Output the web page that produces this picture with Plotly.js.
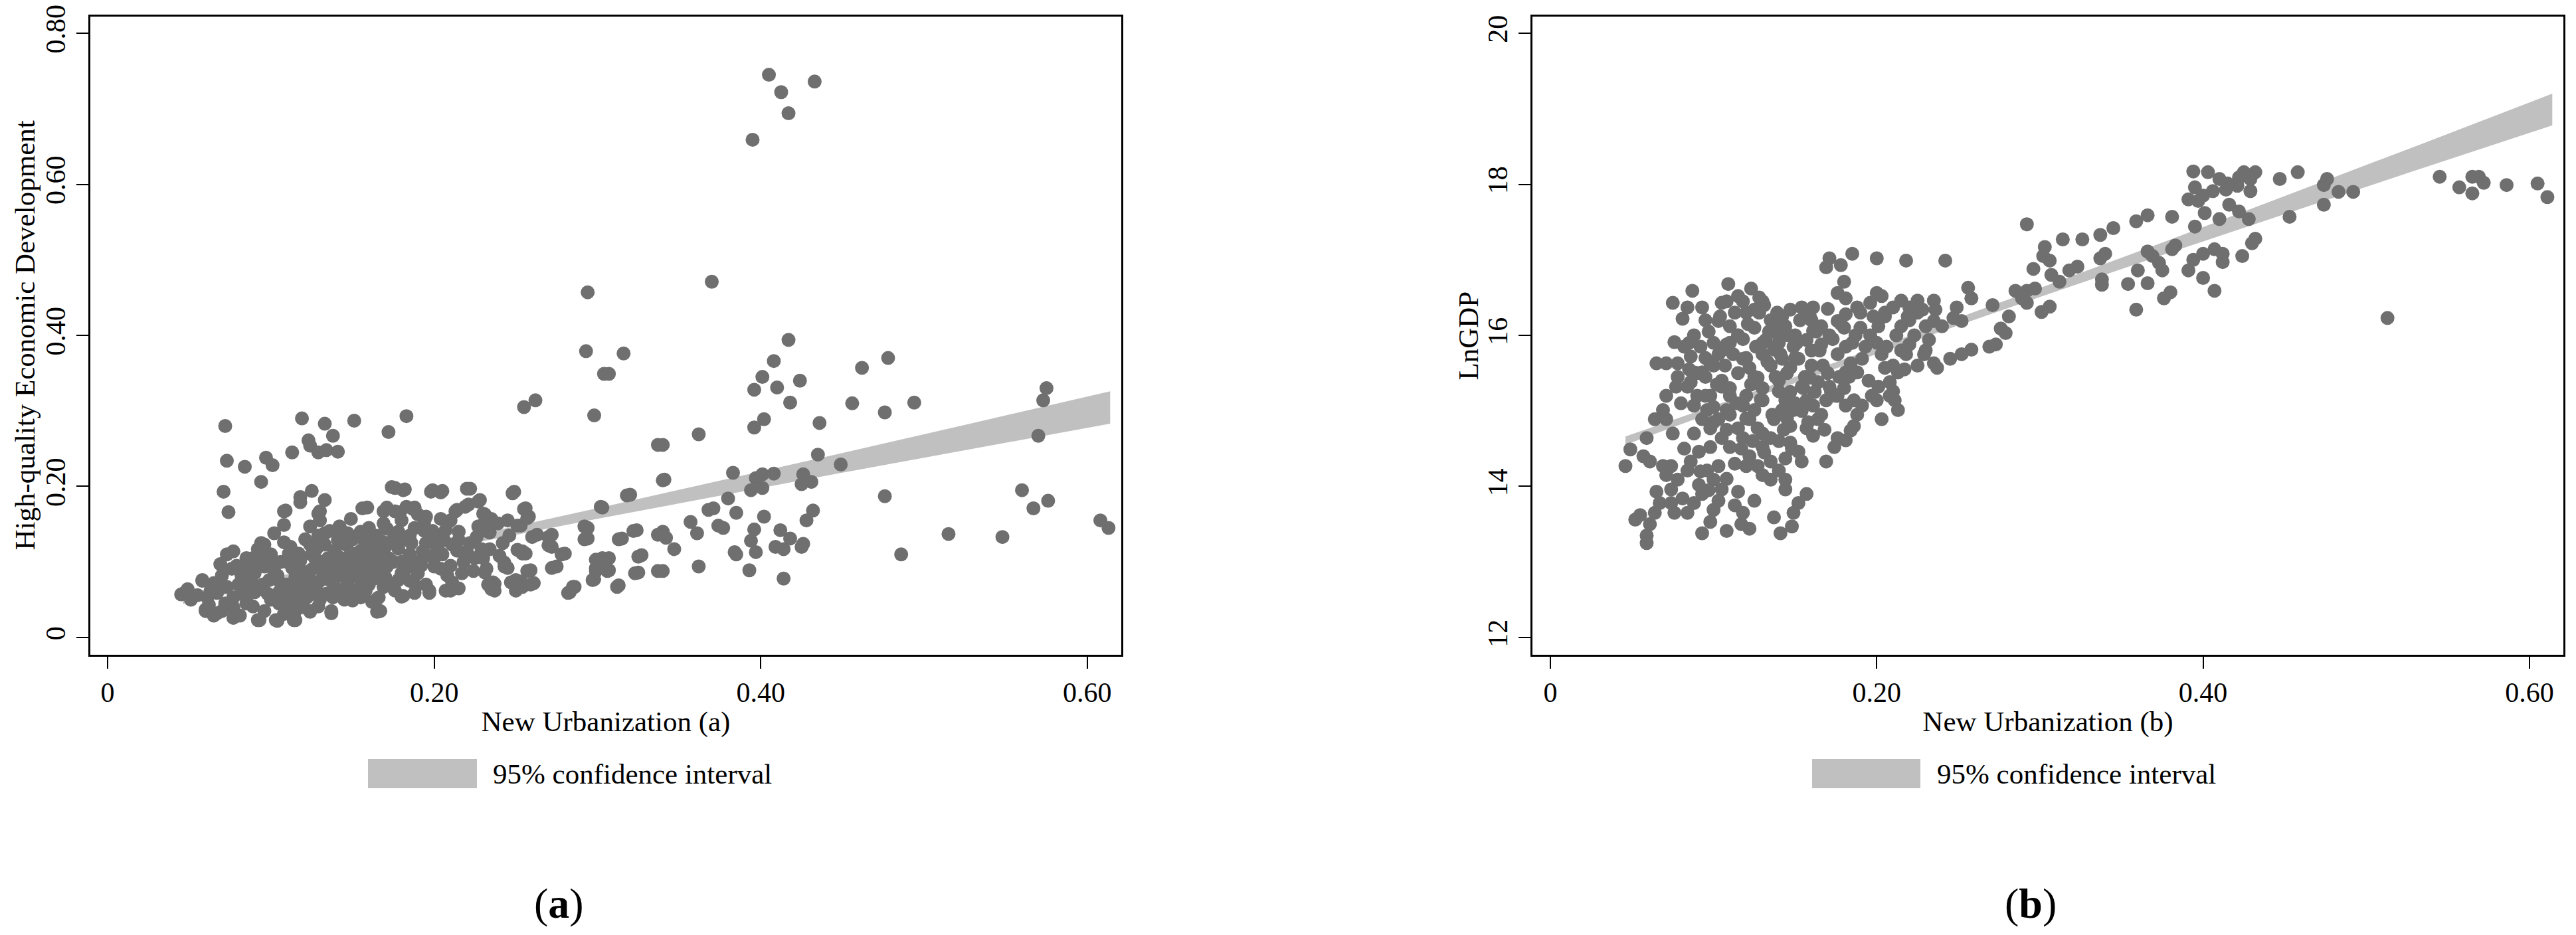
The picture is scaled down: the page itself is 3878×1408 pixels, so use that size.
<!DOCTYPE html>
<html>
<head>
<meta charset="utf-8">
<script src="https://cdn.plot.ly/plotly-3.0.1.min.js"></script>
<style>html,body{margin:0;padding:0;background:#fff;}#chart{width:3878px;height:1408px;}</style>
</head>
<body>
<div id="chart"></div>
<script>
// ---------- DATA ----------
const xTickVals = [0, 0.2, 0.4, 0.6];
const xTickText = ['0', '0.20', '0.40', '0.60'];
const yTickValsA = [0, 0.2, 0.4, 0.6, 0.8];
const yTickTextA = ['0', '0.20', '0.40', '0.60', '0.80'];
const yTickValsB = [12, 14, 16, 18, 20];
const yTickTextB = ['12', '14', '16', '18', '20'];

const xTitleA = 'New Urbanization (a)';
const yTitleA = 'High-quality Economic Development';
const xTitleB = 'New Urbanization (b)';
const yTitleB = 'LnGDP';
const legendLabel = '95% confidence interval';

// confidence band
const bandX = [0.046, 0.10, 0.15, 0.22, 0.30, 0.38, 0.45, 0.53, 0.614];
const bandLowA = [0.0446, 0.0702, 0.0931, 0.1233, 0.1571, 0.1899, 0.2182, 0.2499, 0.2830];
const bandHighA = [0.0566, 0.0792, 0.1011, 0.1333, 0.1711, 0.2099, 0.2442, 0.2839, 0.3260];
const bandLowB = [14.552, 14.982, 15.370, 15.905, 16.507, 17.099, 17.605, 18.182, 18.780];
const bandHighB = [14.662, 15.066, 15.450, 15.995, 16.627, 17.269, 17.845, 18.502, 19.200];

// panel (a): [New Urbanization, High-quality Economic Development]
const pointsA = [
[0.405,0.745],[0.4125,0.722],[0.433,0.736],[0.417,0.694],[0.395,0.659],[0.294,0.457],[0.370,0.471],[0.293,0.379],[0.316,0.376],[0.304,0.349],[0.307,0.349],[0.298,0.294],[0.255,0.305],[0.262,0.314],[0.417,0.394],[0.408,0.366],[0.401,0.345],[0.396,0.328],[0.410,0.331],[0.424,0.340],[0.418,0.311],[0.462,0.357],[0.478,0.370],[0.456,0.310],[0.476,0.298],[0.494,0.311],[0.575,0.330],[0.573,0.314],[0.570,0.267],[0.402,0.289],[0.396,0.278],[0.436,0.284],[0.435,0.242],[0.449,0.229],[0.362,0.269],[0.340,0.255],[0.341,0.209],[0.383,0.218],[0.397,0.211],[0.408,0.217],[0.401,0.216],[0.426,0.216],[0.425,0.203],[0.431,0.206],[0.394,0.195],[0.401,0.198],[0.476,0.187],[0.560,0.195],[0.567,0.171],[0.576,0.181],[0.608,0.155],[0.613,0.145],[0.515,0.137],[0.548,0.133],[0.486,0.110],[0.320,0.189],[0.303,0.172],[0.380,0.184],[0.385,0.165],[0.368,0.169],[0.371,0.171],[0.402,0.160],[0.432,0.168],[0.428,0.155],[0.357,0.153],[0.361,0.138],[0.374,0.148],[0.377,0.145],[0.396,0.143],[0.412,0.142],[0.418,0.131],[0.426,0.124],[0.425,0.120],[0.409,0.120],[0.414,0.117],[0.394,0.128],[0.397,0.113],[0.384,0.113],[0.385,0.110],[0.393,0.089],[0.414,0.078],[0.294,0.145],[0.294,0.131],[0.324,0.142],[0.315,0.131],[0.340,0.140],[0.342,0.132],[0.347,0.117],[0.327,0.109],[0.303,0.105],[0.307,0.105],[0.299,0.092],[0.307,0.089],[0.325,0.086],[0.340,0.088],[0.362,0.094],[0.298,0.077],[0.313,0.069],[0.283,0.060],[0.286,0.067],
[0.263,0.136],[0.272,0.136],[0.272,0.120],[0.280,0.111],[0.275,0.094],[0.258,0.160],[0.256,0.171],[0.249,0.193],[0.253,0.148],[0.254,0.114],[0.256,0.111],[0.259,0.089],[0.261,0.072],[0.253,0.074],[0.250,0.062],[0.245,0.092],[0.243,0.099],[0.237,0.062],[0.237,0.071],[0.231,0.086],[0.234,0.117],[0.234,0.139],[0.239,0.151],[0.229,0.148],[0.231,0.163],[0.222,0.197],[0.228,0.182],[0.221,0.176],[0.214,0.169],[0.205,0.194],[0.199,0.195],[0.182,0.196],[0.176,0.198],
[0.183,0.293],[0.172,0.272],[0.151,0.287],[0.138,0.267],[0.133,0.283],[0.119,0.290],[0.123,0.261],[0.124,0.254],[0.113,0.245],[0.129,0.245],[0.134,0.248],[0.141,0.246],[0.097,0.238],[0.101,0.228],[0.084,0.226],[0.072,0.280],[0.073,0.234],[0.071,0.193],[0.074,0.166],[0.094,0.206],[0.125,0.194],[0.118,0.186],[0.133,0.182],[0.109,0.168],[0.118,0.179],[0.159,0.172],[0.171,0.172],[0.188,0.172],[0.179,0.166],[0.190,0.163],[0.149,0.157],[0.169,0.151],
[0.174,0.199],[0.181,0.195],[0.198,0.193],[0.204,0.192],[0.220,0.197],[0.248,0.191],[0.318,0.188],[0.302,0.173],
[0.108,0.167],[0.130,0.167],[0.156,0.171],[0.169,0.167],[0.176,0.167],[0.183,0.173],[0.187,0.170],[0.194,0.154],[0.204,0.157],[0.208,0.151],[0.213,0.167],[0.219,0.173],[0.227,0.180],[0.230,0.164],[0.235,0.157],[0.245,0.155],[0.251,0.148],[0.255,0.170],[0.257,0.158],[0.260,0.133],[0.270,0.133],[0.270,0.122],[0.278,0.110],[0.292,0.147],[0.292,0.130],[0.313,0.130],[0.322,0.141],[0.337,0.136],[0.337,0.255],[0.340,0.208],[0.325,0.107],[0.299,0.103],[0.304,0.098],[0.299,0.088],[0.306,0.088],[0.297,0.076],[0.272,0.092],[0.285,0.067],[0.282,0.059],[0.312,0.067],[0.323,0.085],[0.337,0.088],[0.257,0.088],[0.254,0.111],[0.251,0.116],[0.243,0.094],[0.247,0.073],[0.250,0.076],[0.254,0.067],[0.259,0.070],[0.236,0.073],[0.235,0.064],[0.233,0.070],[0.232,0.091],[0.230,0.105],[0.229,0.117],[0.227,0.147],[0.232,0.141],[0.226,0.133],[0.220,0.114],[0.218,0.100],[0.224,0.088],[0.217,0.085],[0.211,0.073],[0.207,0.062],[0.208,0.082],[0.204,0.091],[0.200,0.094],[0.197,0.062],[0.195,0.070],[0.188,0.059],[0.180,0.054],[0.176,0.062],[0.178,0.076],[0.180,0.085],[0.185,0.094],[0.190,0.100],[0.193,0.114],[0.199,0.126],[0.206,0.129],[0.211,0.123],[0.215,0.129],[0.199,0.141],[0.194,0.141],[0.185,0.135],[0.180,0.129],[0.176,0.138],[0.171,0.144],[0.169,0.126],[0.164,0.135],[0.163,0.117],[0.157,0.129],[0.158,0.105],[0.166,0.100],[0.171,0.094],[0.167,0.082],[0.169,0.067],[0.166,0.053],[0.165,0.034],[0.162,0.047],[0.155,0.053],[0.152,0.062],[0.147,0.070],[0.152,0.082],[0.147,0.094],[0.143,0.105],[0.146,0.123],[0.147,0.138],[0.142,0.147],[0.141,0.129],[0.136,0.141],[0.133,0.123],[0.129,0.135],[0.130,0.155],[0.129,0.164],[0.124,0.147],[0.124,0.123],[0.117,0.111],[0.127,0.105],[0.131,0.100],[0.138,0.094],[0.141,0.082],[0.136,0.076],[0.143,0.059],[0.138,0.053],[0.137,0.032],[0.129,0.041],[0.124,0.035],[0.122,0.053],[0.128,0.062],[0.124,0.076],[0.119,0.088],[0.115,0.070],[0.114,0.023],[0.115,0.035],[0.110,0.044],[0.108,0.059],[0.104,0.082],[0.106,0.100],[0.111,0.111],[0.108,0.126],[0.102,0.138],[0.108,0.149],[0.096,0.123],[0.092,0.117],[0.089,0.105],[0.096,0.094],[0.099,0.076],[0.094,0.064],[0.101,0.053],[0.103,0.023],[0.092,0.023],[0.096,0.035],[0.089,0.041],[0.085,0.053],[0.085,0.064],[0.082,0.082],[0.085,0.105],[0.077,0.114],[0.073,0.110],[0.076,0.091],[0.070,0.082],[0.069,0.097],[0.073,0.067],[0.077,0.053],[0.077,0.026],[0.070,0.035],[0.065,0.029],[0.060,0.035],[0.058,0.076],[0.065,0.072],[0.067,0.059],[0.061,0.053],[0.049,0.064],[0.045,0.057],[0.051,0.050],[0.055,0.056],
[0.047,0.059],[0.051,0.054],[0.058,0.075],[0.062,0.043],[0.060,0.037],[0.067,0.032],[0.077,0.040],[0.081,0.029],[0.093,0.023],[0.104,0.022],[0.115,0.023],[0.108,0.031],[0.124,0.034],[0.137,0.035],[0.167,0.035],[0.150,0.049],[0.165,0.051],[0.181,0.055],[0.197,0.059],[0.210,0.062],[0.215,0.065],
[0.105,0.060],[0.110,0.070],[0.115,0.080],[0.120,0.065],[0.125,0.090],[0.130,0.075],[0.135,0.085],[0.140,0.065],[0.145,0.080],[0.150,0.090],[0.155,0.075],[0.160,0.095],[0.165,0.110],[0.170,0.120],[0.175,0.100],[0.185,0.110],[0.190,0.085],[0.195,0.125],[0.090,0.085],[0.095,0.070],[0.100,0.095],[0.105,0.045],[0.110,0.100],[0.120,0.040],[0.125,0.110],[0.130,0.050],[0.135,0.105],[0.140,0.110],[0.150,0.100],[0.155,0.115],[0.160,0.070],[0.170,0.080],[0.175,0.130],[0.180,0.100],[0.185,0.075],[0.080,0.070],[0.085,0.090],[0.090,0.060],[0.095,0.110],[0.100,0.050],[0.115,0.055],[0.130,0.095],[0.145,0.050],[0.160,0.120],[0.165,0.090],[0.200,0.105],[0.205,0.110],[0.210,0.095],[0.215,0.140],[0.210,0.155],[0.195,0.160],[0.180,0.155],[0.170,0.145],[0.150,0.130],[0.155,0.140],[0.160,0.145],
[0.085,0.045],[0.088,0.075],[0.092,0.095],[0.098,0.058],[0.102,0.088],[0.106,0.072],[0.112,0.062],[0.113,0.092],[0.118,0.048],[0.118,0.102],[0.122,0.078],[0.126,0.068],[0.128,0.118],[0.132,0.088],[0.134,0.058],[0.138,0.072],[0.139,0.115],[0.143,0.088],[0.148,0.062],[0.149,0.112],[0.153,0.098],[0.157,0.085],[0.158,0.062],[0.162,0.108],[0.163,0.078],[0.168,0.092],[0.172,0.105],[0.173,0.068],[0.178,0.118],[0.182,0.090],[0.186,0.125],[0.189,0.068],[0.192,0.095],[0.196,0.108],[0.202,0.118],[0.079,0.095],[0.083,0.060],[0.072,0.045],[0.068,0.070],[0.063,0.062],[0.094,0.125],[0.100,0.110],[0.112,0.120],[0.121,0.130],[0.133,0.138],[0.144,0.140],[0.158,0.125],[0.167,0.128],[0.178,0.140],[0.188,0.145],[0.200,0.135],[0.207,0.142],[0.214,0.115],[0.222,0.125],[0.225,0.105],[0.240,0.108],[0.242,0.125],[0.246,0.135]
];

// panel (b): [New Urbanization, LnGDP]
const pointsB = [
[0.394,18.17],[0.403,18.16],[0.425,18.16],[0.432,18.16],[0.422,18.09],[0.458,18.16],[0.447,18.07],[0.410,18.07],[0.415,18.01],[0.429,18.07],[0.476,18.07],[0.474,17.99],[0.395,17.96],[0.406,17.91],[0.414,17.93],[0.421,17.98],[0.429,17.91],[0.400,17.85],[0.391,17.80],[0.397,17.78],[0.416,17.73],[0.474,17.73],[0.483,17.90],[0.492,17.90],[0.545,18.10],[0.557,17.96],[0.565,18.10],[0.569,18.10],[0.572,18.02],[0.565,17.88],[0.586,17.99],[0.605,18.01],[0.611,17.83],[0.401,17.62],[0.422,17.64],[0.453,17.57],[0.410,17.54],[0.428,17.54],[0.381,17.57],[0.366,17.59],[0.359,17.51],[0.345,17.42],[0.337,17.33],[0.292,17.47],[0.395,17.44],[0.432,17.28],[0.430,17.22],[0.383,17.19],[0.381,17.14],[0.366,17.11],[0.369,17.05],[0.400,17.08],[0.407,17.14],[0.412,17.08],[0.424,17.05],[0.412,16.97],[0.394,17.00],[0.373,16.96],[0.375,16.86],[0.391,16.86],[0.400,16.76],[0.407,16.59],[0.380,16.57],[0.376,16.49],[0.366,16.69],[0.354,16.68],[0.360,16.86],[0.359,16.34],[0.340,17.08],[0.337,17.02],[0.338,16.74],[0.338,16.67],[0.326,17.27],[0.314,17.27],[0.303,17.17],[0.302,17.05],[0.306,16.99],[0.296,16.88],[0.323,16.91],[0.318,16.86],[0.312,16.71],[0.307,16.80],[0.285,16.59],[0.292,16.59],[0.297,16.62],[0.292,16.43],[0.301,16.31],[0.306,16.38],[0.289,16.49],[0.281,16.25],[0.276,16.09],[0.279,16.03],[0.273,15.88],[0.269,15.85],[0.258,15.81],[0.252,15.75],[0.245,15.69],[0.513,16.23],[0.271,16.40],[0.256,16.63],[0.258,16.49],[0.249,16.37],[0.252,16.19],[0.247,16.23],
[0.242,16.99],[0.218,16.99],[0.200,17.02],[0.185,17.08],[0.171,17.02],[0.178,16.93],[0.169,16.90],[0.180,16.71],[0.176,16.56],[0.181,16.49],[0.200,16.56],[0.203,16.52],[0.225,16.46],[0.235,16.46],[0.215,16.46],[0.220,16.37],[0.228,16.34],[0.236,16.34],[0.210,16.37],[0.205,16.25],[0.196,16.43],[0.188,16.37],[0.181,16.28],[0.176,16.19],[0.166,16.12],[0.159,16.25],[0.147,16.34],[0.154,16.37],[0.161,16.37],[0.142,16.25],[0.137,16.12],[0.131,16.40],[0.123,16.62],[0.125,16.34],[0.109,16.68],[0.115,16.52],[0.105,16.43],[0.103,16.19],[0.093,16.37],[0.087,16.59],[0.075,16.43],[0.081,16.22],[0.084,16.37],[0.076,15.91],[0.071,15.63],[0.065,15.63],[0.078,15.63],[0.086,15.72],[0.088,16.00],[0.088,15.51],[0.086,15.38],[0.084,15.32],[0.077,15.32],[0.071,15.20],[0.069,15.01],[0.064,14.89],[0.071,14.89],[0.059,14.64],[0.049,14.49],[0.046,14.27],[0.057,14.40],[0.061,14.33],[0.069,14.27],[0.074,14.27],[0.071,14.15],[0.074,13.96],[0.065,13.93],[0.067,13.78],[0.064,13.65],[0.061,13.50],[0.059,13.35],[0.059,13.25],[0.052,13.56],[0.055,13.62],[0.074,13.78],[0.076,13.65],[0.081,13.84],[0.084,13.65],[0.088,13.78],[0.093,13.90],[0.091,14.02],[0.078,14.09],[0.084,14.21],[0.086,14.33],[0.091,14.46],[0.096,14.21],[0.093,13.38],[0.098,13.53],[0.100,13.69],[0.103,13.81],[0.108,13.41],[0.115,13.93],[0.118,13.65],[0.117,13.50],[0.122,13.44],[0.125,13.81],[0.127,14.27],[0.130,14.15],[0.135,14.09],[0.137,13.59],[0.141,13.38],[0.144,13.96],[0.144,14.09],[0.148,13.47],[0.149,13.65],[0.152,13.78],[0.157,13.90],[0.154,14.33],[0.152,14.46],[0.147,14.58],[0.144,14.37],[0.140,14.21],[0.135,14.33],[0.130,14.52],[0.122,14.40],[0.120,14.27],[0.113,14.30],[0.110,14.52],[0.105,14.64],[0.103,14.27],[0.100,14.09],[0.105,13.96],[0.098,14.52],[0.098,14.77],[0.093,14.89],[0.103,14.89],[0.108,15.01],[0.115,14.77],[0.118,14.64],[0.122,14.89],[0.127,14.77],[0.135,14.64],[0.137,14.89],[0.142,15.01],[0.147,14.80],[0.157,14.77],[0.161,14.67],[0.164,14.89],[0.166,14.95],[0.169,14.33],[0.174,14.52],[0.176,14.64],[0.181,14.61],[0.184,14.74],[0.186,14.80],[0.188,14.95],[0.191,15.07],[0.186,15.14],[0.181,15.07],[0.176,15.20],[0.169,15.14],[0.171,15.32],[0.164,15.38],[0.159,15.44],[0.154,15.32],[0.157,15.14],[0.161,15.07],[0.149,15.01],[0.144,15.14],[0.140,15.26],[0.130,15.14],[0.125,15.01],[0.118,15.07],[0.110,15.20],[0.105,15.32],[0.098,15.20],[0.096,15.01],[0.088,15.07],[0.093,15.51],[0.098,15.63],[0.103,15.75],[0.108,15.88],[0.110,16.12],[0.115,16.00],[0.118,15.69],[0.122,15.57],[0.127,15.44],[0.130,15.75],[0.132,15.94],[0.137,15.81],[0.142,15.69],[0.147,15.57],[0.140,16.00],[0.144,16.12],[0.149,15.85],[0.152,15.69],[0.157,15.94],[0.161,16.06],[0.166,15.88],[0.171,16.00],[0.176,15.75],[0.181,15.85],[0.184,15.63],[0.181,15.51],[0.188,15.51],[0.191,15.69],[0.196,16.00],[0.201,16.12],[0.203,15.75],[0.205,15.57],[0.208,15.38],[0.210,15.26],[0.213,15.51],[0.211,15.14],[0.208,15.20],[0.213,15.01],[0.200,15.14],[0.203,14.89],[0.201,15.32],[0.218,15.75],[0.220,15.88],[0.223,16.00],[0.230,16.12],[0.232,15.94],[0.235,15.63],[0.237,15.57],[0.229,15.75],[0.215,16.12],[0.219,16.25],[0.235,16.19],[0.240,16.12],
[0.100,15.60],[0.105,15.80],[0.110,15.90],[0.115,15.50],[0.120,15.70],[0.125,16.10],[0.130,15.90],[0.135,15.60],[0.140,15.40],[0.145,15.50],[0.150,15.70],[0.110,15.30],[0.120,15.20],[0.130,15.30],[0.140,15.90],[0.135,16.20],[0.125,15.45],[0.115,16.00],[0.105,15.40],[0.100,15.90],[0.095,15.70],[0.090,15.50],[0.095,15.20],[0.100,15.05],[0.110,14.95],[0.120,14.90],[0.130,14.70],[0.140,14.60],[0.145,14.90],[0.150,15.10],[0.155,15.30],[0.160,15.60],[0.165,15.80],[0.170,15.50],[0.175,15.20],[0.180,15.30],[0.185,15.90],[0.190,16.10],[0.195,15.40],[0.200,15.90],[0.205,16.30],[0.210,15.60],[0.215,15.80],[0.220,16.20],[0.225,16.30],[0.230,15.80],[0.120,16.30],[0.130,16.45],[0.140,16.20],[0.150,16.00],[0.160,16.20],[0.170,16.35],[0.180,16.10],[0.190,16.30],
[0.082,15.85],[0.085,15.55],[0.090,15.20],[0.092,15.85],[0.095,15.45],[0.097,16.05],[0.100,14.85],[0.102,15.35],[0.104,16.25],[0.107,15.60],[0.108,14.75],[0.112,15.75],[0.113,16.30],[0.114,15.10],[0.117,14.50],[0.118,15.95],[0.121,16.15],[0.123,15.35],[0.124,14.60],[0.126,15.85],[0.128,16.30],[0.129,15.15],[0.131,14.45],[0.133,15.65],[0.134,16.05],[0.136,14.95],[0.138,15.45],[0.139,16.30],[0.141,15.75],[0.143,14.75],[0.146,16.00],[0.147,15.25],[0.148,14.50],[0.151,15.90],[0.153,16.20],[0.154,15.00],[0.156,15.45],[0.158,14.85],[0.160,15.80],[0.162,15.25],[0.163,16.05],[0.167,15.60],[0.168,14.75],[0.172,15.25],[0.173,15.95],[0.177,15.45],[0.178,16.15],[0.183,15.45],[0.187,16.00],[0.193,15.85],[0.197,15.20],[0.198,16.25],[0.206,15.85],[0.212,16.00],[0.217,15.55],[0.225,15.60],[0.108,16.45],[0.118,16.45],[0.128,16.50],[0.095,16.20],[0.085,15.90],[0.078,15.45],[0.080,15.10],[0.075,14.70],[0.082,14.50],[0.088,14.70],[0.092,14.20],[0.097,13.95],[0.108,14.10],[0.113,13.75]
];

// ---------- PLOT ----------
const FONT = '"Liberation Serif", "Times New Roman", Times, serif';
const DOT = '#6f6f6f';
const BAND = '#c0c0c0';

function bandTraces(lo, hi, xa, ya) {
  return [
    {x: bandX, y: lo, xaxis: xa, yaxis: ya, type: 'scatter', mode: 'lines',
     line: {width: 0, color: BAND}, hoverinfo: 'skip', showlegend: false},
    {x: bandX, y: hi, xaxis: xa, yaxis: ya, type: 'scatter', mode: 'lines',
     line: {width: 0, color: BAND}, fill: 'tonexty', fillcolor: BAND,
     name: legendLabel, hoverinfo: 'skip', showlegend: false}
  ];
}
function pointTrace(pts, xa, ya) {
  return {x: pts.map(p => p[0]), y: pts.map(p => p[1]), xaxis: xa, yaxis: ya,
    type: 'scatter', mode: 'markers', showlegend: false,
    marker: {color: DOT, size: 21, line: {width: 0}}};
}

const data = [
  ...bandTraces(bandLowA, bandHighA, 'x', 'y'),
  pointTrace(pointsA, 'x', 'y'),
  ...bandTraces(bandLowB, bandHighB, 'x2', 'y2'),
  pointTrace(pointsB, 'x2', 'y2')
];

const W = 3878, H = 1408;
function axisBase() {
  return {
    showline: true, linewidth: 3, linecolor: 'black', mirror: true,
    showgrid: false, zeroline: false,
    ticks: 'outside', ticklen: 18, tickwidth: 2, tickcolor: 'black',
    tickfont: {family: FONT, size: 42, color: 'black'},
    automargin: false, fixedrange: true
  };
}
const yDomain = [1 - 986 / H, 1 - 25 / H];
const yMid = 1 - 505.5 / H;

const layout = {
  width: W, height: H,
  margin: {l: 0, r: 0, t: 0, b: 0, pad: 0},
  paper_bgcolor: 'white', plot_bgcolor: 'white',
  showlegend: false,
  font: {family: FONT, size: 42, color: 'black'},
  xaxis: Object.assign(axisBase(), {
    domain: [136 / W, 1688 / W], range: [-0.0106, 0.6208], anchor: 'y',
    tickvals: xTickVals, ticktext: xTickText,
    title: {text: xTitleA, font: {family: FONT, size: 43}, standoff: 6}
  }),
  yaxis: Object.assign(axisBase(), {
    domain: yDomain, range: [-0.0229, 0.822], anchor: 'x',
    tickvals: yTickValsA, ticktext: yTickTextA, tickangle: -90,
    ticklabelstandoff: 0
  }),
  xaxis2: Object.assign(axisBase(), {
    domain: [2307 / W, 3859 / W], range: [-0.011, 0.6208], anchor: 'y2',
    tickvals: xTickVals, ticktext: xTickText,
    title: {text: xTitleB, font: {family: FONT, size: 43}, standoff: 6}
  }),
  yaxis2: Object.assign(axisBase(), {
    domain: yDomain, range: [11.771, 20.22], anchor: 'x2',
    tickvals: yTickValsB, ticktext: yTickTextB, tickangle: -90,
    ticklabelstandoff: 0
  }),
  shapes: [
    {type: 'rect', xref: 'paper', yref: 'paper', x0: 554 / W, x1: 718 / W,
     y0: 1 - 1187 / H, y1: 1 - 1143 / H, fillcolor: BAND, line: {width: 0}},
    {type: 'rect', xref: 'paper', yref: 'paper', x0: 2728 / W, x1: 2891 / W,
     y0: 1 - 1187 / H, y1: 1 - 1143 / H, fillcolor: BAND, line: {width: 0}}
  ],
  annotations: [
    {xref: 'paper', yref: 'paper', x: 37 / W, y: yMid, xanchor: 'center', yanchor: 'middle',
     textangle: -90, text: yTitleA, showarrow: false, font: {family: FONT, size: 43, color: 'black'}},
    {xref: 'paper', yref: 'paper', x: 2210 / W, y: yMid, xanchor: 'center', yanchor: 'middle',
     textangle: -90, text: yTitleB, showarrow: false, font: {family: FONT, size: 43, color: 'black'}},
    {xref: 'paper', yref: 'paper', x: 740 / W, y: 1 - 1165 / H, xanchor: 'left', yanchor: 'middle',
     text: legendLabel, showarrow: false, font: {family: FONT, size: 43, color: 'black'}},
    {xref: 'paper', yref: 'paper', x: 2914 / W, y: 1 - 1165 / H, xanchor: 'left', yanchor: 'middle',
     text: legendLabel, showarrow: false, font: {family: FONT, size: 43, color: 'black'}},
    {xref: 'paper', yref: 'paper', x: 841 / W, y: 1 - 1360 / H, xanchor: 'center', yanchor: 'middle',
     text: '(<b>a</b>)', showarrow: false, font: {family: FONT, size: 64, color: 'black'}},
    {xref: 'paper', yref: 'paper', x: 3057 / W, y: 1 - 1360 / H, xanchor: 'center', yanchor: 'middle',
     text: '(<b>b</b>)', showarrow: false, font: {family: FONT, size: 64, color: 'black'}}
  ]
};

Plotly.newPlot('chart', data, layout, {displayModeBar: false, staticPlot: true});
</script>
</body>
</html>
